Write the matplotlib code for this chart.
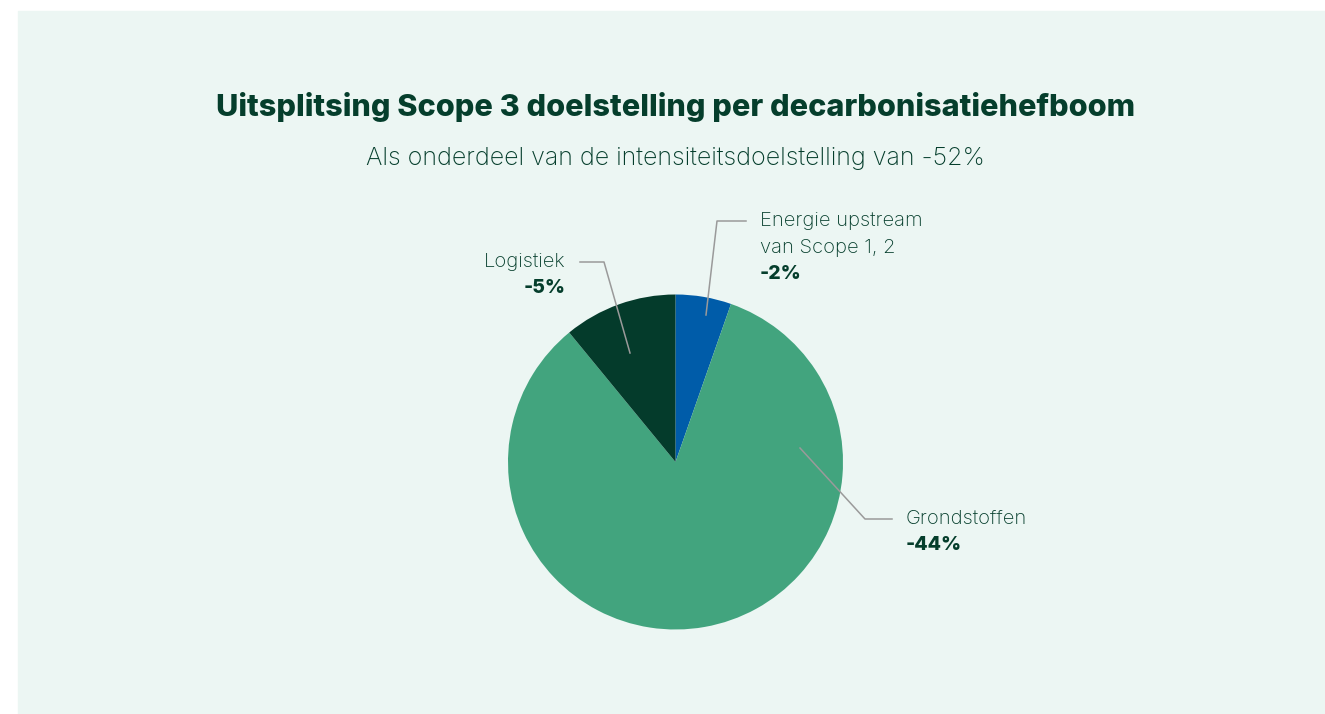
import numpy as np
import matplotlib
matplotlib.use("Agg")
from matplotlib import pyplot as plt
from matplotlib.patches import Rectangle

# data (slice shares measured from the wedges, labels as printed)
categories = ["Energie upstream\nvan Scope 1, 2", "Grondstoffen", "Logistiek"]
shares = [2.8, 43.6, 5.7]
value_labels = ["-2%", "-44%", "-5%"]
colors = ["#005ca9", "#42a47e", "#043b2b"]

title = "Uitsplitsing Scope 3 doelstelling per decarbonisatiehefboom"
subtitle = "Als onderdeel van de intensiteitsdoelstelling van -52%"

W, H = 1325, 714
bg = "#ecf6f3"
txt = "#053e2c"
line_col = "#9a9a9a"
font = "Inter"

fig = plt.figure(figsize=(W / 100, H / 100), dpi=100)
ax = fig.add_axes([0, 0, 1, 1])

# panel
ax.add_patch(Rectangle((18, 0), W - 18, H - 11, color=bg, zorder=0))

cx, cy, r = 675.5, H - 462, 167.5
wedges, _ = ax.pie(shares, colors=colors, startangle=90, counterclock=False,
                   center=(cx, cy), radius=r, wedgeprops=dict(linewidth=0))
ax.set_xlim(0, W)
ax.set_ylim(0, H)
ax.axis("off")

t1 = ax.text(cx, H - 107, title, ha="center", va="center", fontsize=22.1,
             fontweight="heavy", family=font, color=txt)
t2 = ax.text(cx, H - 158, subtitle, ha="center", va="center", fontsize=18,
             fontweight="light", family=font, color=txt)

# leader lines: (start on slice, elbow, end) in pixel layout
leaders = [
    [(706, 315), (717, 221), (746, 221)],
    [(800, 448), (865, 519), (892, 519)],
    [(630, 353), (604, 262), (580, 262)],
]
for pts in leaders:
    xs = [p[0] for p in pts]
    ys = [H - p[1] for p in pts]
    ax.plot(xs, ys, color=line_col, lw=1.1, zorder=5)

# label text positions
label_pos = [(760, 221, "left"), (906, 519, "left"), (566, 262, "right")]
for (x, y, ha), name, val in zip(label_pos, categories, value_labels):
    lines = name.split("\n")
    for i, ln in enumerate(lines):
        ax.text(x, H - y - i * 27, ln, ha=ha, va="center", fontsize=14.5,
                fontweight="light", family=font, color=txt)
    ax.text(x, H - y - len(lines) * 27 + 1, val, ha=ha, va="center",
            fontsize=14, fontweight="heavy", family=font, color=txt)

fig.savefig("out.png", dpi=100, facecolor="white")
